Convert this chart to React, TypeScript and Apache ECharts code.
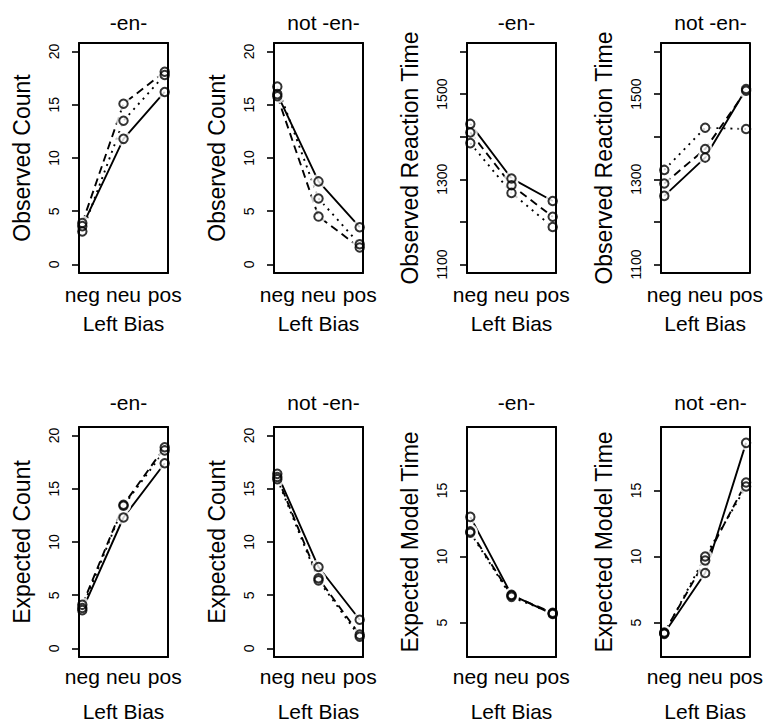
import React, { useEffect, useRef } from "react";
import * as echarts from "echarts";

const FONT = '"Liberation Sans", Arial, Helvetica, sans-serif';

// categories
const xCats = ["neg", "neu", "pos"];
const xName = "Left Bias";
const panelTitles = ["-en-", "not -en-", "-en-", "not -en-", "-en-", "not -en-", "-en-", "not -en-"];
const yNames = [
  "Observed Count", "Observed Count", "Observed Reaction Time", "Observed Reaction Time",
  "Expected Count", "Expected Count", "Expected Model Time", "Expected Model Time",
];

// tick values
const countTicks = [0, 5, 10, 15, 20];
const countLabels = [0, 5, 10, 15, 20];
const rtTicks = [1100, 1200, 1300, 1400, 1500, 1600];
const rtLabels = [1100, 1300, 1500];
const timeTicks = [5, 10, 15];
const timeLabels = [5, 10, 15];

// series values (solid, dashed, dotted)
const obsCountEnSolid = [3.6, 11.8, 16.2];
const obsCountEnDashed = [3.9, 15.1, 18.1];
const obsCountEnDotted = [3.1, 13.5, 17.8];

const obsCountNotSolid = [16.0, 7.8, 3.5];
const obsCountNotDashed = [15.8, 4.5, 1.6];
const obsCountNotDotted = [16.7, 6.2, 1.9];

const obsRtEnSolid = [1430, 1302, 1249];
const obsRtEnDashed = [1410, 1286, 1212];
const obsRtEnDotted = [1385, 1268, 1188];

const obsRtNotSolid = [1261, 1351, 1512];
const obsRtNotDashed = [1290, 1371, 1508];
const obsRtNotDotted = [1322, 1421, 1418];

const expCountEnSolid = [3.6, 12.3, 17.4];
const expCountEnDashed = [4.1, 13.5, 18.9];
const expCountEnDotted = [3.8, 13.4, 18.6];

const expCountNotSolid = [16.4, 7.65, 2.7];
const expCountNotDashed = [16.1, 6.6, 1.3];
const expCountNotDotted = [15.9, 6.4, 1.1];

const expTimeEnSolid = [13.0, 7.1, 5.65];
const expTimeEnDashed = [11.9, 7.05, 5.75];
const expTimeEnDotted = [11.8, 6.95, 5.7];

const expTimeNotSolid = [4.2, 8.75, 18.6];
const expTimeNotDashed = [4.25, 9.7, 15.6];
const expTimeNotDotted = [4.15, 10.0, 15.3];

const scales: Record<string, { min: number; max: number; ticks: number[]; labels: number[] }> = {
  count: { min: -0.8, max: 20.8, ticks: countTicks, labels: countLabels },
  rt: { min: 1080, max: 1620, ticks: rtTicks, labels: rtLabels },
  time: { min: 2.4, max: 19.8, ticks: timeTicks, labels: timeLabels },
};

const panelScales = ["count", "count", "rt", "rt", "count", "count", "time", "time"];
const panelSeries = [
  [obsCountEnSolid, obsCountEnDashed, obsCountEnDotted],
  [obsCountNotSolid, obsCountNotDashed, obsCountNotDotted],
  [obsRtEnSolid, obsRtEnDashed, obsRtEnDotted],
  [obsRtNotSolid, obsRtNotDashed, obsRtNotDotted],
  [expCountEnSolid, expCountEnDashed, expCountEnDotted],
  [expCountNotSolid, expCountNotDashed, expCountNotDotted],
  [expTimeEnSolid, expTimeEnDashed, expTimeEnDotted],
  [expTimeNotSolid, expTimeNotDashed, expTimeNotDotted],
];

// layout
const colLefts = [79, 274, 467, 661];
const rowTops = [43, 427];
const boxW = 89;
const boxH = 230;
const titleTops = [7, 387];
const xNameGaps = [40, 44];
const xLabelMargins = [11, 9];
const lineTypes: any[] = ["solid", [8, 5], [2, 5]];

function buildOption() {
  const grid: any[] = [];
  const xAxis: any[] = [];
  const yAxis: any[] = [];
  const series: any[] = [];
  const title: any[] = [];
  const black = "#000";
  const edge = { show: true, onZero: false, lineStyle: { color: black, width: 2 } };

  panelSeries.forEach((lines, i) => {
    const row = Math.floor(i / 4);
    const col = i % 4;
    const sc = scales[panelScales[i]];
    grid.push({ left: colLefts[col], top: rowTops[row], width: boxW, height: boxH, containLabel: false });
    title.push({
      text: panelTitles[i],
      left: colLefts[col] + boxW / 2,
      top: titleTops[row],
      textAlign: "center",
      textStyle: { fontFamily: FONT, fontSize: 21, fontWeight: "normal", color: black },
    });
    // bottom x axis
    xAxis.push({
      type: "value", gridIndex: i, min: 0.92, max: 3.08, position: "bottom", z: 10,
      name: xName, nameLocation: "middle", nameGap: xNameGaps[row],
      nameTextStyle: { fontFamily: FONT, fontSize: 21, color: black },
      axisLine: edge,
      axisTick: { show: false },
      splitLine: { show: false },
      axisLabel: {
        show: true, customValues: [1, 2, 3], margin: xLabelMargins[row],
        formatter: (v: number) => xCats[Math.round(v) - 1],
        fontFamily: FONT, fontSize: 21, color: black,
      },
    });
    // top x axis (box edge)
    xAxis.push({
      type: "value", gridIndex: i, min: 0.92, max: 3.08, position: "top", z: 10,
      axisLine: edge,
      axisTick: { show: false }, axisLabel: { show: false }, splitLine: { show: false },
    });
    // left y axis
    yAxis.push({
      type: "value", gridIndex: i, min: sc.min, max: sc.max, position: "left", z: 10,
      name: yNames[i], nameLocation: "middle", nameGap: 46,
      nameTextStyle: { fontFamily: FONT, fontSize: 23, color: black },
      axisLine: edge,
      axisTick: { show: true, customValues: sc.ticks, length: 7, lineStyle: { color: black, width: 1.6 } },
      splitLine: { show: false },
      axisLabel: {
        show: true, customValues: sc.labels, rotate: 90, margin: 18,
        formatter: (v: number) => String(v),
        fontFamily: FONT, fontSize: 14, color: black,
      },
    });
    // right y axis (box edge)
    yAxis.push({
      type: "value", gridIndex: i, min: sc.min, max: sc.max, position: "right", z: 10,
      axisLine: edge,
      axisTick: { show: false }, axisLabel: { show: false }, splitLine: { show: false },
    });

    const xi = i * 2;
    const yi = i * 2;
    const pts: number[][] = [];
    lines.forEach((vals, k) => {
      const data = vals.map((v, j) => [j + 1, v]);
      data.forEach((d) => pts.push(d));
      series.push({
        type: "line", xAxisIndex: xi, yAxisIndex: yi, data, z: 2,
        symbol: "none", showSymbol: false, silent: true,
        lineStyle: { color: black, width: 1.9, type: lineTypes[k] },
      });
    });
    // white gap around points (R type "b")
    series.push({
      type: "scatter", xAxisIndex: xi, yAxisIndex: yi, data: pts, z: 3, silent: true,
      symbol: "circle", symbolSize: 15, itemStyle: { color: "#fff" },
    });
    // open circle markers
    series.push({
      type: "scatter", xAxisIndex: xi, yAxisIndex: yi, data: pts, z: 4, silent: true,
      symbol: "circle", symbolSize: 8.5,
      itemStyle: { color: "rgba(0,0,0,0)", borderColor: black, borderWidth: 2 },
    });
  });

  return {
    animation: false,
    backgroundColor: "#fff",
    textStyle: { fontFamily: FONT },
    title, grid, xAxis, yAxis, series,
  };
}

export default function App() {
  const ref = useRef<HTMLDivElement>(null);
  useEffect(() => {
    if (!ref.current) return;
    const chart = echarts.init(ref.current, undefined, { renderer: "svg" });
    chart.setOption(buildOption());
    return () => chart.dispose();
  }, []);
  return (
    <div
      ref={ref}
      style={{ position: "absolute", left: 0, top: 0, width: 766, height: 726, background: "#fff" }}
    />
  );
}
